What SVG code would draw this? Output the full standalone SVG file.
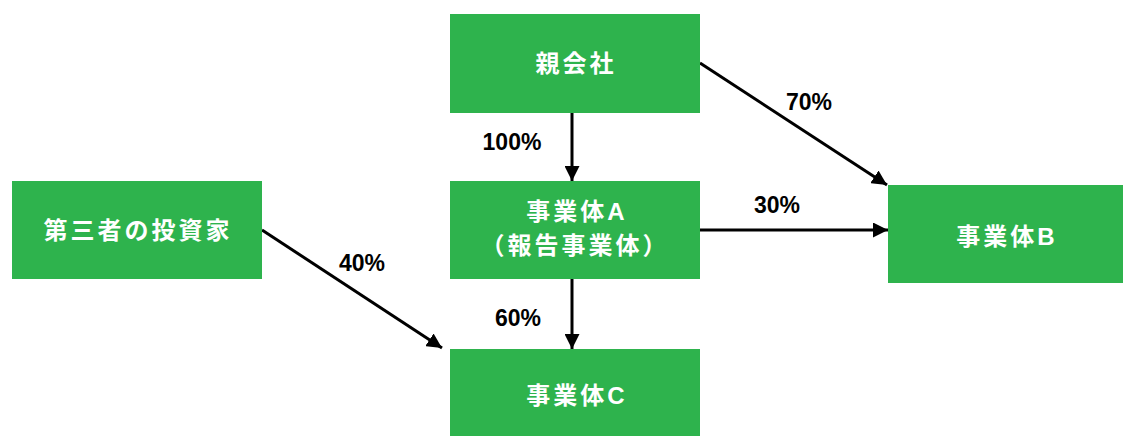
<svg xmlns="http://www.w3.org/2000/svg" width="1123" height="436" viewBox="0 0 1123 436">
<defs>
<style>
.box{fill:#2eb34d;}
.nt{fill:#ffffff;font-family:"Liberation Sans","Noto Sans CJK JP",sans-serif;font-weight:bold;font-size:24px;letter-spacing:3px;text-anchor:middle;}
.lbl{fill:#000000;font-family:"Liberation Sans","Noto Sans CJK JP",sans-serif;font-weight:bold;font-size:23px;text-anchor:middle;}
.edge{stroke:#000000;stroke-width:3;fill:none;marker-end:url(#ah);}
</style>
<marker id="ah" viewBox="0 0 10 10" refX="10" refY="5" markerWidth="5" markerHeight="5" orient="auto" markerUnits="strokeWidth">
<path d="M0,0 L10,5 L0,10 z" fill="#000000"/>
</marker>
</defs>
<rect width="1123" height="436" fill="#ffffff"/>
<g id="connectors">
<line class="edge" x1="572" y1="113" x2="572" y2="181"/>
<line class="edge" x1="572" y1="279" x2="572" y2="349"/>
<line class="edge" x1="700" y1="63" x2="887" y2="185"/>
<line class="edge" x1="700" y1="230" x2="888" y2="230"/>
<line class="edge" x1="262" y1="230" x2="442" y2="348"/>
<text class="lbl" x="512" y="150">100%</text>
<text class="lbl" x="518" y="326">60%</text>
<text class="lbl" x="809" y="110">70%</text>
<text class="lbl" x="777" y="213">30%</text>
<text class="lbl" x="362" y="271">40%</text>
</g>
<g id="oyagaisha">
<rect class="box" x="450" y="14" width="250" height="99"/>
<text class="nt" x="576" y="72">親会社</text>
</g>
<g id="entityA">
<rect class="box" x="450" y="181" width="250" height="98"/>
<text class="nt" x="577" y="220">事業体A</text>
<text class="nt" x="575" y="254">（報告事業体）</text>
</g>
<g id="entityB">
<rect class="box" x="888" y="185" width="235" height="98"/>
<text class="nt" x="1007" y="245">事業体B</text>
</g>
<g id="entityC">
<rect class="box" x="450" y="349" width="250" height="87"/>
<text class="nt" x="577" y="404">事業体C</text>
</g>
<g id="investor">
<rect class="box" x="12" y="181" width="250" height="98"/>
<text class="nt" x="138" y="239">第三者の投資家</text>
</g>
</svg>
